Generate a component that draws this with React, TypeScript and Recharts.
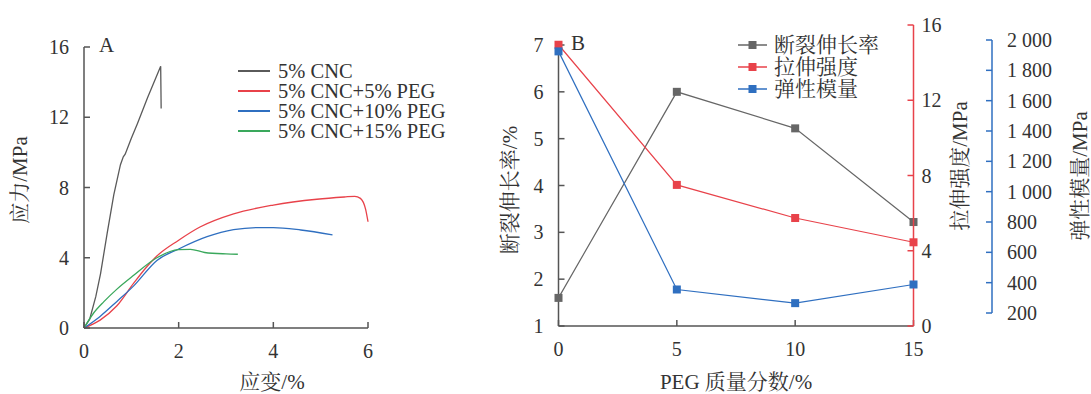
import React from 'react';
import { LineChart, Line, XAxis, YAxis, Legend } from 'recharts';

const FONT = "'Liberation Serif', 'Noto Serif CJK SC', 'Noto Sans CJK SC', serif";

// panel A: stress–strain curves, [strain %, stress MPa]
const cnc5: number[][] = [
  [0, 0], [0.12, 0.5], [0.25, 1.8], [0.35, 3.1], [0.49, 5.4], [0.63, 7.6], [0.77, 9.3],
  [0.83, 9.75], [0.87, 9.9], [1.0, 10.8], [1.13, 11.65], [1.34, 13.1], [1.62, 14.9], [1.63, 12.5],
];
const cncPeg5: number[][] = [
  [0, 0], [0.34, 0.45], [0.69, 1.25], [1.05, 2.55], [1.3, 3.4], [1.54, 4.1], [2.0, 5.0],
  [2.45, 5.75], [3.16, 6.5], [4.0, 7.0], [4.92, 7.33], [5.5, 7.46], [5.72, 7.5], [5.84, 7.38],
  [5.95, 6.75], [6.0, 6.05],
];
const cncPeg10: number[][] = [
  [0, 0], [0.34, 0.66], [0.69, 1.5], [1.05, 2.4], [1.54, 3.85], [2.0, 4.5], [2.6, 5.2],
  [3.16, 5.6], [3.7, 5.72], [4.0, 5.72], [4.58, 5.58], [5.25, 5.3],
];
const cncPeg15: number[][] = [
  [0, 0], [0.2, 0.84], [0.42, 1.5], [0.69, 2.2], [1.05, 3.0], [1.54, 4.0], [2.0, 4.46],
  [2.25, 4.48], [2.55, 4.3], [3.0, 4.22], [3.25, 4.2],
];
const seriesNamesA = ['5% CNC', '5% CNC+5% PEG', '5% CNC+10% PEG', '5% CNC+15% PEG'];
const colorsA = ['#5a5a5a', '#e8424a', '#2f6fc0', '#3aa85c'];
const strainTicks = [0, 2, 4, 6];
const stressTicks = [0, 4, 8, 12, 16];

// panel B: properties vs PEG content
const pegContent = [0, 5, 10, 15];
const elongation = [1.6, 6.0, 5.22, 3.22];
const strength = [14.95, 7.5, 5.74, 4.45];
const modulus = [1925, 355, 265, 388];
const seriesNamesB = ['断裂伸长率', '拉伸强度', '弹性模量'];
const colorsB = ['#666666', '#e8424a', '#2f6fc0'];
const pegTicks = [0, 5, 10, 15];
const elongTicks = [1, 2, 3, 4, 5, 6, 7];
const strengthTicks = [0, 4, 8, 12, 16];
const modulusTicks = [200, 400, 600, 800, 1000, 1200, 1400, 1600, 1800, 2000];

const toPts = (arr: number[][]) => arr.map(([x, y]) => ({ x, y }));
const curvesA = [cnc5, cncPeg5, cncPeg10, cncPeg15].map(toPts);
const tableB = pegContent.map((p, i) => ({
  peg: p,
  elong: elongation[i],
  strength: strength[i],
  modulus: modulus[i],
}));

const tickStyle = { fill: '#333', fontSize: 20, fontFamily: FONT };
const grayAxis = { stroke: '#555', strokeWidth: 1.5 };

const fmtThousands = (v: number) =>
  v >= 1000 ? `${Math.floor(v / 1000)} ${String(v % 1000).padStart(3, '0')}` : String(v);

const square = (color: string) => (p: any) => (
  <rect key={p.index} x={p.cx - 4} y={p.cy - 4} width={8} height={8} fill={color} />
);

const titleStyle = { fontSize: 21, fontFamily: FONT, fill: '#333' };

const LegendA = () => (
  <div style={{ fontFamily: FONT, fontSize: 20.5, color: '#333', lineHeight: '20px' }}>
    {seriesNamesA.map((n, i) => (
      <div key={n} style={{ display: 'flex', alignItems: 'center', height: 20 }}>
        <svg width={42} height={20}>
          <line x1={2} x2={34} y1={10} y2={10} stroke={colorsA[i]} strokeWidth={2} />
        </svg>
        <span>{n}</span>
      </div>
    ))}
  </div>
);

const LegendB = () => (
  <div style={{ fontFamily: FONT, fontSize: 21, color: '#333', lineHeight: '22px' }}>
    {seriesNamesB.map((n, i) => (
      <div key={n} style={{ display: 'flex', alignItems: 'center', height: 22 }}>
        <svg width={38} height={22}>
          <line x1={2} x2={31} y1={11} y2={11} stroke={colorsB[i]} strokeWidth={1.5} />
          <rect x={12.5} y={7} width={8} height={8} fill={colorsB[i]} />
        </svg>
        <span>{n}</span>
      </div>
    ))}
  </div>
);

export default function App() {
  return (
    <div style={{ position: 'fixed', left: 0, top: 0, width: 1091, height: 394, background: '#fff', fontFamily: FONT }}>
      {/* panel A */}
      <div style={{ position: 'absolute', left: 0, top: 0 }}>
        <LineChart width={470} height={394} margin={{ top: 47, right: 102, bottom: 36, left: 6 }}>
          <XAxis
            type="number"
            dataKey="x"
            domain={[0, 6]}
            ticks={strainTicks}
            interval={0}
            height={30}
            tickSize={-6}
            tickMargin={22}
            tick={tickStyle}
            axisLine={grayAxis}
            tickLine={grayAxis}
            label={{
              content: () => (
                <text x={272} y={389} textAnchor="middle" style={titleStyle}>应变/%</text>
              ),
            }}
          />
          <YAxis
            type="number"
            domain={[0, 16]}
            ticks={stressTicks}
            interval={0}
            width={78}
            tickSize={-6}
            tickMargin={21}
            tick={tickStyle}
            axisLine={grayAxis}
            tickLine={grayAxis}
            label={{
              content: () => (
                <text x={27} y={180} textAnchor="middle" transform="rotate(-90 27 180)" style={titleStyle}>
                  应力/MPa
                </text>
              ),
            }}
          />
          <Legend
            layout="vertical"
            align="center"
            verticalAlign="middle"
            wrapperStyle={{ left: 236, top: 61, width: 240 }}
            content={() => <LegendA />}
          />
          {curvesA.map((d, i) => (
            <Line
              key={seriesNamesA[i]}
              data={d}
              dataKey="y"
              name={seriesNamesA[i]}
              type={i === 0 ? 'linear' : 'monotone'}
              stroke={colorsA[i]}
              strokeWidth={1.3}
              dot={false}
              isAnimationActive={false}
            />
          ))}
        </LineChart>
        <div style={{ position: 'absolute', left: 99, top: 33, fontSize: 21, color: '#333', fontFamily: FONT }}>A</div>
      </div>

      {/* panel B: elongation, left axis, x axis */}
      <div style={{ position: 'absolute', left: 470, top: 0 }}>
        <LineChart width={621} height={394} data={tableB} margin={{ top: 45, right: 177.5, bottom: 38, left: 28.5 }}>
          <XAxis
            type="number"
            dataKey="peg"
            domain={[0, 15]}
            ticks={pegTicks}
            interval={0}
            height={30}
            tickSize={-6}
            tickMargin={22}
            tick={tickStyle}
            axisLine={grayAxis}
            tickLine={grayAxis}
            label={{
              content: () => (
                <text x={266} y={389} textAnchor="middle" style={titleStyle}>PEG 质量分数/%</text>
              ),
            }}
          />
          <YAxis
            type="number"
            domain={[1, 7]}
            ticks={elongTicks}
            interval={0}
            width={60}
            tickSize={-6}
            tickMargin={21}
            tick={tickStyle}
            axisLine={grayAxis}
            tickLine={grayAxis}
            label={{
              content: () => (
                <text x={47} y={190} textAnchor="middle" transform="rotate(-90 47 190)" style={titleStyle}>
                  断裂伸长率/%
                </text>
              ),
            }}
          />
          <Line
            dataKey="elong"
            name={seriesNamesB[0]}
            type="linear"
            stroke={colorsB[0]}
            strokeWidth={1.2}
            dot={square(colorsB[0])}
            isAnimationActive={false}
          />
        </LineChart>
      </div>

      {/* panel B: tensile strength, red right axis */}
      <div style={{ position: 'absolute', left: 470, top: 0 }}>
        <LineChart width={621} height={394} data={tableB} margin={{ top: 25, right: 117.5, bottom: 68, left: 88.5 }}>
          <XAxis type="number" dataKey="peg" domain={[0, 15]} hide />
          <YAxis
            orientation="right"
            type="number"
            domain={[0, 16]}
            ticks={strengthTicks}
            interval={0}
            width={60}
            tickSize={-6}
            tickMargin={14}
            tick={tickStyle}
            axisLine={{ stroke: '#e8424a', strokeWidth: 1.5 }}
            tickLine={{ stroke: '#e8424a', strokeWidth: 1.5 }}
            label={{
              content: () => (
                <text x={497} y={166} textAnchor="middle" transform="rotate(-90 497 166)" style={titleStyle}>
                  拉伸强度/MPa
                </text>
              ),
            }}
          />
          <Line
            dataKey="strength"
            name={seriesNamesB[1]}
            type="linear"
            stroke={colorsB[1]}
            strokeWidth={1.2}
            dot={square(colorsB[1])}
            isAnimationActive={false}
          />
        </LineChart>
      </div>

      {/* panel B: modulus, blue outer right axis */}
      <div style={{ position: 'absolute', left: 470, top: 0 }}>
        <LineChart width={621} height={394} data={tableB} margin={{ top: 40, right: 29, bottom: 81, left: 88.5 }}>
          <XAxis type="number" dataKey="peg" domain={[0, 15]} hide />
          <YAxis
            yAxisId="gap"
            orientation="right"
            width={78.5}
            tick={false}
            axisLine={false}
            tickLine={false}
          />
          <YAxis
            yAxisId="mod"
            orientation="right"
            type="number"
            domain={[200, 2000]}
            ticks={modulusTicks}
            interval={0}
            width={70}
            tickSize={-6}
            tickMargin={21}
            tick={tickStyle}
            tickFormatter={fmtThousands}
            axisLine={{ stroke: '#2f6fc0', strokeWidth: 1.5 }}
            tickLine={{ stroke: '#2f6fc0', strokeWidth: 1.5 }}
            label={{
              content: () => (
                <text x={617} y={176} textAnchor="middle" transform="rotate(-90 617 176)" style={titleStyle}>
                  弹性模量/MPa
                </text>
              ),
            }}
          />
          <Legend
            layout="vertical"
            align="center"
            verticalAlign="middle"
            wrapperStyle={{ left: 266, top: 34, width: 180 }}
            content={() => <LegendB />}
          />
          <Line
            yAxisId="mod"
            dataKey="modulus"
            name={seriesNamesB[2]}
            type="linear"
            stroke={colorsB[2]}
            strokeWidth={1.2}
            dot={square(colorsB[2])}
            isAnimationActive={false}
          />
        </LineChart>
        <div style={{ position: 'absolute', left: 101, top: 31, fontSize: 21, color: '#333', fontFamily: FONT }}>B</div>
      </div>
    </div>
  );
}
